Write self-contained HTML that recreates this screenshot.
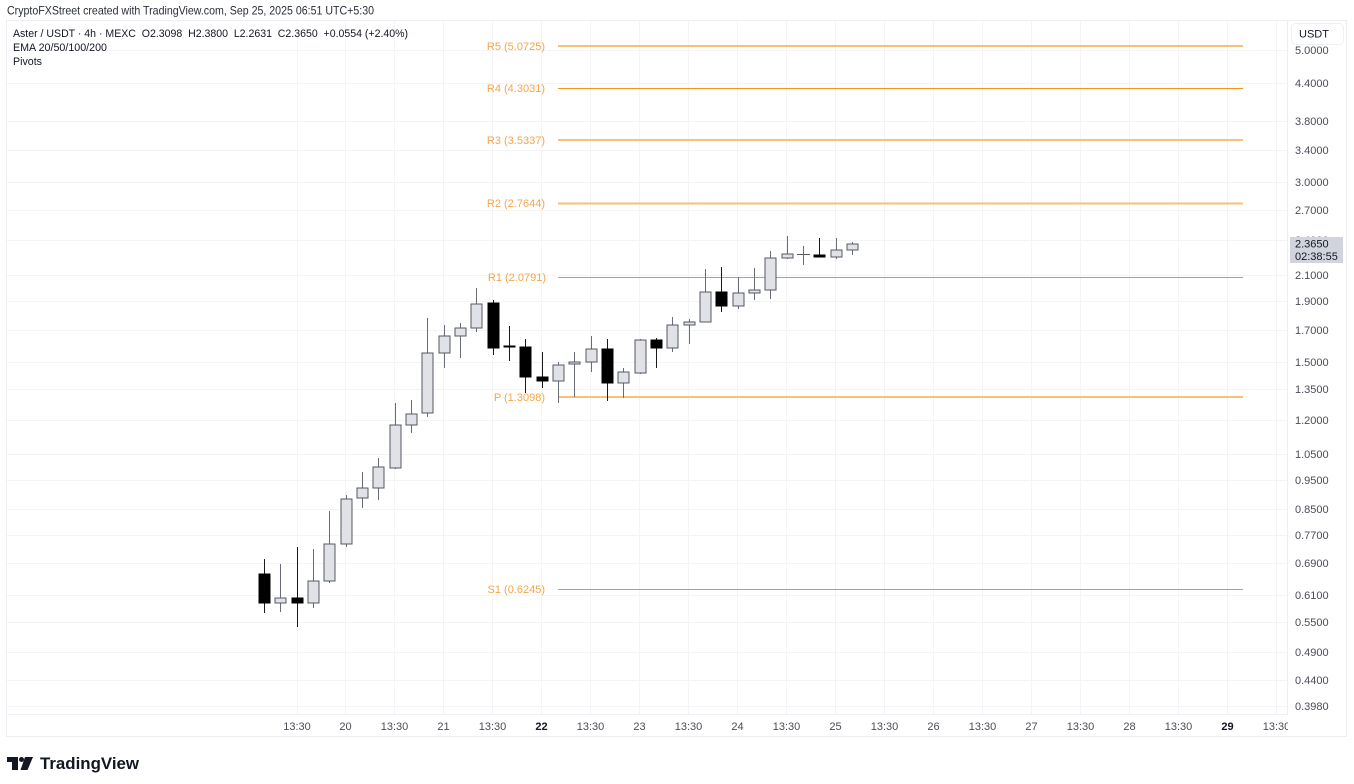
<!DOCTYPE html>
<html><head><meta charset="utf-8"><style>
html,body{margin:0;padding:0;background:#fff;}
svg{display:block;font-family:"Liberation Sans",Arial,sans-serif;}
</style></head><body>
<svg width="1354" height="784" viewBox="0 0 1354 784" xmlns="http://www.w3.org/2000/svg">
<rect x="0" y="0" width="1354" height="784" fill="#fff"/>
<!-- header -->
<text x="7" y="14.5" font-size="12" fill="#2a2e39" textLength="367" lengthAdjust="spacingAndGlyphs">CryptoFXStreet created with TradingView.com, Sep 25, 2025 06:51 UTC+5:30</text>

<!-- frame -->
<rect x="6.5" y="20.5" width="1340" height="716" fill="#fff" stroke="#eceef2"/>

<!-- grid -->
<g stroke="#f3f4f6" stroke-width="1" shape-rendering="crispEdges">
<line x1="7" x2="1287" y1="50.5" y2="50.5"/>
<line x1="7" x2="1287" y1="83.5" y2="83.5"/>
<line x1="7" x2="1287" y1="121.5" y2="121.5"/>
<line x1="7" x2="1287" y1="150.5" y2="150.5"/>
<line x1="7" x2="1287" y1="182.5" y2="182.5"/>
<line x1="7" x2="1287" y1="210.5" y2="210.5"/>
<line x1="7" x2="1287" y1="240.5" y2="240.5"/>
<line x1="7" x2="1287" y1="275.5" y2="275.5"/>
<line x1="7" x2="1287" y1="301.5" y2="301.5"/>
<line x1="7" x2="1287" y1="330.5" y2="330.5"/>
<line x1="7" x2="1287" y1="362.5" y2="362.5"/>
<line x1="7" x2="1287" y1="389.5" y2="389.5"/>
<line x1="7" x2="1287" y1="420.5" y2="420.5"/>
<line x1="7" x2="1287" y1="454.5" y2="454.5"/>
<line x1="7" x2="1287" y1="480.5" y2="480.5"/>
<line x1="7" x2="1287" y1="509.5" y2="509.5"/>
<line x1="7" x2="1287" y1="535.5" y2="535.5"/>
<line x1="7" x2="1287" y1="563.5" y2="563.5"/>
<line x1="7" x2="1287" y1="595.5" y2="595.5"/>
<line x1="7" x2="1287" y1="622.5" y2="622.5"/>
<line x1="7" x2="1287" y1="652.5" y2="652.5"/>
<line x1="7" x2="1287" y1="680.5" y2="680.5"/>
<line x1="7" x2="1287" y1="706.5" y2="706.5"/>
<line y1="21" y2="714" x1="297.5" x2="297.5"/>
<line y1="21" y2="714" x1="345.5" x2="345.5"/>
<line y1="21" y2="714" x1="394.5" x2="394.5"/>
<line y1="21" y2="714" x1="443.5" x2="443.5"/>
<line y1="21" y2="714" x1="492.5" x2="492.5"/>
<line y1="21" y2="714" x1="541.5" x2="541.5"/>
<line y1="21" y2="714" x1="590.5" x2="590.5"/>
<line y1="21" y2="714" x1="639.5" x2="639.5"/>
<line y1="21" y2="714" x1="688.5" x2="688.5"/>
<line y1="21" y2="714" x1="737.5" x2="737.5"/>
<line y1="21" y2="714" x1="786.5" x2="786.5"/>
<line y1="21" y2="714" x1="835.5" x2="835.5"/>
<line y1="21" y2="714" x1="884.5" x2="884.5"/>
<line y1="21" y2="714" x1="933.5" x2="933.5"/>
<line y1="21" y2="714" x1="982.5" x2="982.5"/>
<line y1="21" y2="714" x1="1031.5" x2="1031.5"/>
<line y1="21" y2="714" x1="1080.5" x2="1080.5"/>
<line y1="21" y2="714" x1="1129.5" x2="1129.5"/>
<line y1="21" y2="714" x1="1178.5" x2="1178.5"/>
<line y1="21" y2="714" x1="1227.5" x2="1227.5"/>
<line y1="21" y2="714" x1="1276.5" x2="1276.5"/>
</g>

<!-- legend -->
<text x="13" y="37" font-size="11" fill="#131722" textLength="395" lengthAdjust="spacingAndGlyphs">Aster / USDT · 4h · MEXC&#160;&#160;O2.3098&#160;&#160;H2.3800&#160;&#160;L2.2631&#160;&#160;C2.3650&#160;&#160;+0.0554 (+2.40%)</text>
<text x="13" y="51" font-size="11" fill="#131722" textLength="94" lengthAdjust="spacingAndGlyphs">EMA 20/50/100/200</text>
<text x="13" y="65" font-size="11" fill="#131722" textLength="29" lengthAdjust="spacingAndGlyphs">Pivots</text>

<!-- pivot lines -->
<g stroke-width="1">
<line x1="558" x2="1243" y1="46" y2="46" stroke="#f9c07a" stroke-width="2"/>
<line x1="558" x2="1243" y1="88.5" y2="88.5" stroke="#f7931a"/>
<line x1="558" x2="1243" y1="140" y2="140" stroke="#f9c07a" stroke-width="2"/>
<line x1="558" x2="1243" y1="203.5" y2="203.5" stroke="#f9c07a" stroke-width="2"/>
<line x1="558" x2="1243" y1="277.5" y2="277.5" stroke="#f7931a"/>
<line x1="558" x2="1243" y1="397" y2="397" stroke="#f9c07a" stroke-width="2"/>
<line x1="558" x2="1243" y1="589.5" y2="589.5" stroke="#f7931a"/>
</g>
<g font-size="11" fill="#f6a54a" text-anchor="end">
<text x="545" y="50">R5 (5.0725)</text>
<text x="545" y="92">R4 (4.3031)</text>
<text x="545" y="144">R3 (3.5337)</text>
<text x="545" y="207">R2 (2.7644)</text>
<text x="546" y="281">R1 (2.0791)</text>
<text x="545" y="401">P (1.3098)</text>
<text x="545" y="593">S1 (0.6245)</text>
</g>

<!-- candles -->
<g shape-rendering="crispEdges">
<g stroke="#6a6d78" stroke-width="1">
<line x1="280.5" x2="280.5" y1="564" y2="612"/>
<line x1="313.5" x2="313.5" y1="549" y2="608"/>
<line x1="329.5" x2="329.5" y1="511" y2="583"/>
<line x1="346.5" x2="346.5" y1="495" y2="547"/>
<line x1="362.5" x2="362.5" y1="472" y2="508"/>
<line x1="378.5" x2="378.5" y1="458" y2="500"/>
<line x1="395.5" x2="395.5" y1="403" y2="469"/>
<line x1="411.5" x2="411.5" y1="400" y2="433"/>
<line x1="427.5" x2="427.5" y1="318" y2="417"/>
<line x1="444.5" x2="444.5" y1="325" y2="368"/>
<line x1="460.5" x2="460.5" y1="323" y2="358"/>
<line x1="476.5" x2="476.5" y1="288" y2="332"/>
<line x1="558.5" x2="558.5" y1="362" y2="403"/>
<line x1="574.5" x2="574.5" y1="352" y2="397"/>
<line x1="591.5" x2="591.5" y1="336" y2="372"/>
<line x1="623.5" x2="623.5" y1="368" y2="398"/>
<line x1="640.5" x2="640.5" y1="339" y2="374"/>
<line x1="672.5" x2="672.5" y1="317" y2="352"/>
<line x1="689.5" x2="689.5" y1="319" y2="344"/>
<line x1="705.5" x2="705.5" y1="269" y2="322"/>
<line x1="738.5" x2="738.5" y1="277" y2="309"/>
<line x1="754.5" x2="754.5" y1="268" y2="300"/>
<line x1="770.5" x2="770.5" y1="251" y2="299"/>
<line x1="787.5" x2="787.5" y1="236" y2="259"/>
<line x1="803.5" x2="803.5" y1="246" y2="265"/>
<line x1="836.5" x2="836.5" y1="238" y2="259"/>
<line x1="852.5" x2="852.5" y1="242" y2="255"/>
</g>
<g stroke="#1a1a1a" stroke-width="1">
<line x1="264.5" x2="264.5" y1="559" y2="613"/>
<line x1="297.5" x2="297.5" y1="547" y2="627"/>
<line x1="493.5" x2="493.5" y1="300" y2="355"/>
<line x1="509.5" x2="509.5" y1="326" y2="361"/>
<line x1="525.5" x2="525.5" y1="339" y2="393"/>
<line x1="542.5" x2="542.5" y1="352" y2="388"/>
<line x1="607.5" x2="607.5" y1="339" y2="401"/>
<line x1="656.5" x2="656.5" y1="338" y2="368"/>
<line x1="721.5" x2="721.5" y1="267" y2="312"/>
<line x1="819.5" x2="819.5" y1="238" y2="257"/>
</g>
<g fill="#e0e2e8" stroke="#55585f" stroke-width="1">
<rect x="275" y="598" width="11" height="5"/>
<rect x="308" y="581" width="11" height="22"/>
<rect x="324" y="544" width="11" height="37"/>
<rect x="341" y="499" width="11" height="45"/>
<rect x="357" y="488" width="11" height="10"/>
<rect x="373" y="467" width="11" height="21"/>
<rect x="390" y="425" width="11" height="43"/>
<rect x="406" y="414" width="11" height="11"/>
<rect x="422" y="353" width="11" height="60"/>
<rect x="439" y="336" width="11" height="17"/>
<rect x="455" y="328" width="11" height="8"/>
<rect x="471" y="304" width="11" height="24"/>
<rect x="553" y="365" width="11" height="16"/>
<rect x="569" y="362" width="11" height="2"/>
<rect x="586" y="349" width="11" height="13"/>
<rect x="618" y="372" width="11" height="11"/>
<rect x="635" y="340" width="11" height="33"/>
<rect x="667" y="325" width="11" height="23"/>
<rect x="684" y="322" width="11" height="3"/>
<rect x="700" y="292" width="11" height="30"/>
<rect x="733" y="293" width="11" height="13"/>
<rect x="749" y="290" width="11" height="3"/>
<rect x="765" y="258" width="11" height="32"/>
<rect x="782" y="254" width="11" height="4"/>
<rect x="831" y="250" width="11" height="7"/>
<rect x="847" y="244" width="11" height="6"/>
</g>
<rect x="797" y="254" width="13" height="1" fill="#55585f"/>
<g fill="#000" stroke="#000" stroke-width="1">
<rect x="259" y="574" width="11" height="29"/>
<rect x="292" y="598" width="11" height="5"/>
<rect x="488" y="303" width="11" height="45"/>
<rect x="504" y="346" width="11" height="1"/>
<rect x="520" y="347" width="11" height="30"/>
<rect x="537" y="377" width="11" height="4"/>
<rect x="602" y="349" width="11" height="34"/>
<rect x="651" y="340" width="11" height="8"/>
<rect x="716" y="292" width="11" height="14"/>
<rect x="814" y="255" width="11" height="2"/>
</g>
</g>

<!-- axes separators -->
<line x1="1287.5" x2="1287.5" y1="21" y2="714" stroke="#eceef2"/>
<line x1="7" x2="1346" y1="714.5" y2="714.5" stroke="#f0f1f4"/>

<!-- time axis labels -->
<g font-size="11" fill="#4a4d57" text-anchor="middle">
<text x="297" y="730">13:30</text>
<text x="345.5" y="730">20</text>
<text x="394.5" y="730">13:30</text>
<text x="443.5" y="730">21</text>
<text x="492.5" y="730">13:30</text>
<text x="541.5" y="730" font-weight="bold" fill="#131722">22</text>
<text x="590.5" y="730">13:30</text>
<text x="639.5" y="730">23</text>
<text x="688.5" y="730">13:30</text>
<text x="737.5" y="730">24</text>
<text x="786.5" y="730">13:30</text>
<text x="835.5" y="730">25</text>
<text x="884.5" y="730">13:30</text>
<text x="933.5" y="730">26</text>
<text x="982.5" y="730">13:30</text>
<text x="1031.5" y="730">27</text>
<text x="1080.5" y="730">13:30</text>
<text x="1129.5" y="730">28</text>
<text x="1178.5" y="730">13:30</text>
<text x="1227.5" y="730" font-weight="bold" fill="#131722">29</text>
<text x="1276.5" y="730">13:30</text>
</g>
<rect x="1288" y="21" width="58" height="715" fill="#fff"/>
<line x1="1287.5" x2="1287.5" y1="21" y2="714" stroke="#eceef2"/>

<!-- price labels -->
<g font-size="11" fill="#4a4d57">
<text x="1295" y="54">5.0000</text>
<text x="1295" y="87">4.4000</text>
<text x="1295" y="125">3.8000</text>
<text x="1295" y="154">3.4000</text>
<text x="1295" y="186">3.0000</text>
<text x="1295" y="214">2.7000</text>
<text x="1295" y="244">2.4000</text>
<text x="1295" y="279">2.1000</text>
<text x="1295" y="305">1.9000</text>
<text x="1295" y="334">1.7000</text>
<text x="1295" y="366">1.5000</text>
<text x="1295" y="393">1.3500</text>
<text x="1295" y="424">1.2000</text>
<text x="1295" y="458">1.0500</text>
<text x="1295" y="484">0.9500</text>
<text x="1295" y="513">0.8500</text>
<text x="1295" y="539">0.7700</text>
<text x="1295" y="567">0.6900</text>
<text x="1295" y="599">0.6100</text>
<text x="1295" y="626">0.5500</text>
<text x="1295" y="656">0.4900</text>
<text x="1295" y="684">0.4400</text>
<text x="1295" y="710">0.3980</text>
</g>

<!-- USDT box -->
<rect x="1291.5" y="23.5" width="52" height="21" rx="4" fill="#fff" stroke="#eef0f3"/>
<text x="1299" y="37.5" font-size="11" fill="#131722">USDT</text>

<!-- current price box -->
<rect x="1290" y="237" width="53" height="26" fill="#d1d4dc"/>
<text x="1295" y="247.5" font-size="11" fill="#131722">2.3650</text>
<text x="1295" y="260" font-size="11" fill="#131722">02:38:55</text>

<!-- TradingView logo -->
<g fill="#131722">
<rect x="7" y="757" width="11" height="5"/>
<rect x="12" y="757" width="6" height="13"/>
<circle cx="21.5" cy="759.5" r="2.5"/>
<polygon points="25,757 33,757 27.5,770 20.5,770"/>
</g>
<text x="40" y="769" font-size="16.5" font-weight="bold" fill="#131722" textLength="99" lengthAdjust="spacingAndGlyphs">TradingView</text>
</svg>
</body></html>
